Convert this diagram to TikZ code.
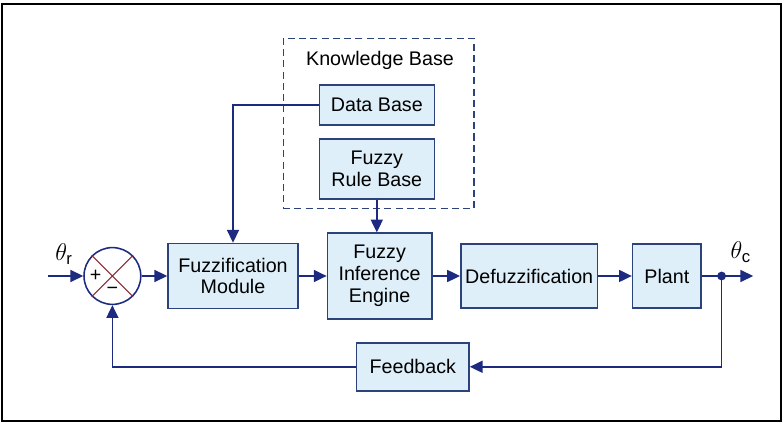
\documentclass[tikz,border=0pt]{standalone}
\usepackage{fontspec}
\setmainfont{Liberation Sans}
\usetikzlibrary{arrows.meta,positioning}
\definecolor{navy}{RGB}{28,42,128}
\definecolor{boxline}{RGB}{44,66,122}
\definecolor{boxfill}{RGB}{222,239,249}
\definecolor{crossred}{RGB}{140,42,52}

\tikzset{
  block/.style={draw=boxline, fill=boxfill, line width=1.1pt, align=center,
    inner sep=0pt, font=\fontsize{14}{15.6}\selectfont},
  link/.style={navy, line width=1.1pt, -{Triangle[length=3.2mm,width=3mm]}},
  label text/.style={font=\fontsize{14}{16}\selectfont},
  angle text/.style={font=\fontsize{17}{19}\selectfont},
}

\begin{document}
\begin{tikzpicture}
  \useasboundingbox (0,0) rectangle (19.6,10.6);
  \draw[black, line width=1.2pt] (0.05,0.08) rectangle (19.52,10.5);

  % knowledge base
  \node[draw=boxline, dashed, dash pattern=on 5pt off 3pt, line width=1pt,
    minimum width=4.77cm, minimum height=4.25cm] (kbox) at (9.465,7.515) {};
  \node[label text] (kbase) at (9.5,9.1) {Knowledge Base};
  \node[block, minimum width=2.875cm, minimum height=1cm] (database) at (9.42,7.975) {Data Base};
  \node[block, minimum width=2.875cm, minimum height=1.5cm] (rulebase) at (9.42,6.37) {Fuzzy\\Rule Base};

  % main path
  \node[circle, draw=navy, fill=white, line width=1.1pt, minimum size=1.42cm, inner sep=0pt] (sum) at (2.81,3.7) {};
  \draw[crossred, line width=0.8pt] (sum.45) -- (sum.225) (sum.135) -- (sum.315);
  \node[label text] (plus) at ([xshift=-0.42cm]sum.center) {+};
  \node[label text] (minus) at ([yshift=-0.36cm]sum.center) {−};

  \node[block, minimum width=3.25cm, minimum height=1.625cm] (fuzzify) at (5.825,3.7) {Fuzzification\\Module};
  \node[block, minimum width=2.61cm, minimum height=2.14cm] (infer) at (9.49,3.7) {Fuzzy\\Inference\\Engine};
  \node[block, minimum width=3.42cm, minimum height=1.61cm] (defuzz) at (13.23,3.7) {Defuzzification};
  \node[block, minimum width=1.71cm, minimum height=1.61cm] (plant) at (16.67,3.7) {Plant};
  \node[block, minimum width=2.81cm, minimum height=1.2cm] (feedback) at (10.32,1.43) {Feedback};

  \coordinate (input) at (1.2,3.7);
  \coordinate (tap) at (18.04,3.7);
  \coordinate (output) at (18.83,3.7);
  \node[angle text] (thetar) at (1.6,4.25) {$\theta_{\mathrm{r}}$};
  \node[angle text] (thetac) at (18.52,4.3) {$\theta_{\mathrm{c}}$};

  % connectors
  \draw[link] (input) -- (sum);
  \draw[link] (sum) -- (fuzzify);
  \draw[link] (fuzzify) -- (infer);
  \draw[link] (infer) -- (defuzz);
  \draw[link] (defuzz) -- (plant);
  \draw[link] (plant) -- (output);
  \fill[navy] (tap) circle (0.11);
  \draw[link] (tap) |- (feedback);
  \draw[link] (feedback) -| (sum);
  \draw[link] (database.west) -| (fuzzify.north);
  \draw[link] (rulebase.south) -- (rulebase.south |- infer.north);
\end{tikzpicture}
\end{document}
